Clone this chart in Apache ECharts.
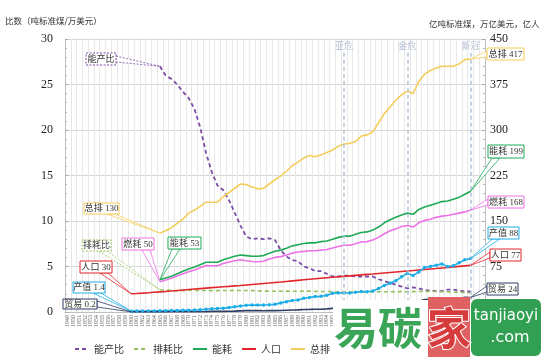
<!DOCTYPE html>
<html><head><meta charset="utf-8">
<script src="https://cdn.jsdelivr.net/npm/echarts@6/dist/echarts.min.js"></script>
<style>html,body{margin:0;padding:0;background:#fff}#c{width:550px;height:360px}</style>
</head><body><div id="c"></div>
<script>
// ---- categories (years) ----
const years = ['1949','1950','1951','1952','1953','1954','1955','1956','1957','1958','1959',
'1960','1961','1962','1963','1964','1965','1966','1967','1968','1969',
'1970','1971','1972','1973','1974','1975','1976','1977','1978','1979',
'1980','1981','1982','1983','1984','1985','1986','1987','1988','1989',
'1990','1991','1992','1993','1994','1995','1996','1997','1998','1999',
'2000','2001','2002','2003','2004','2005','2006','2007','2008','2009',
'2010','2011','2012','2013','2014','2015','2016','2017','2018','2019','2020','2021'];

// ---- series values ----
// from 1960
const population = [30.0,30.5,31.1,31.8,32.5,33.2,33.9,34.6,35.4,36.2,
37.0,37.8,38.6,39.4,40.2,40.9,41.6,42.3,43.1,43.8,
44.6,45.4,46.2,47.0,47.8,48.7,49.5,50.4,51.3,52.2,
53.1,54.0,54.8,55.6,56.4,57.2,58.0,58.8,59.6,60.4,
61.2,62.0,62.7,63.5,64.3,65.1,65.9,66.7,67.5,68.3,
69.2,70.0,70.9,71.7,72.6,73.4,74.3,75.2,76.1,77.0];
const output = [1.4,1.45,1.55,1.67,1.82,1.98,2.15,2.3,2.46,2.7,
2.96,3.26,3.77,4.58,5.29,5.89,6.38,7.23,8.47,9.93,
11.2,11.5,11.4,11.6,12.0,12.6,15.0,17.1,19.0,19.9,
22.6,23.9,25.4,25.8,27.7,30.9,31.5,31.4,31.3,32.5,
33.8,33.5,34.7,38.9,43.8,47.5,51.4,57.9,63.6,60.3,
66.0,73.3,75.0,77.2,79.3,75.0,76.2,81.2,86.1,88.0];
const trade = [0.2,0.2,0.2,0.2,0.2,0.25,0.25,0.3,0.3,0.35,
0.4,0.45,0.5,0.7,0.95,1.0,1.1,1.3,1.5,1.9,
2.3,2.3,2.2,2.1,2.2,2.3,2.5,2.9,3.3,3.5,
4.1,4.3,4.6,4.6,5.1,6.0,6.3,6.5,6.5,6.8,
7.5,7.3,7.7,8.9,10.6,11.9,13.5,15.8,17.9,14.8,
17.5,20.4,20.8,21.7,22.3,20.2,20.0,22.0,24.2,24.0];
// from 1965
const energy = [53,56,59,63,67,
71,74,78,82,82,82,86,89,92,94,
93,92,92,93,97,100,102,105,109,111,
113,114,114,116,117,120,123,125,125,128,
131,132,135,140,147,152,156,160,163,161,
169,173,176,179,182,183,186,189,194,199];
const fuel = [50,52.6,55.5,59.2,63,
66.4,69.2,72.9,76.7,76.3,76.3,80,82.3,84.6,86,
84.6,83.3,82.8,83.7,87.3,90,91.3,94,97,98.8,
100,100.9,100.9,102,103,105.6,108,110,110,112.6,
115.3,116,118.8,123,129,134,137,141,142.6,140,
147,151,153,156,158,159,161,163,165,168];
const emission = [130,134,139,146,153,
163,168,174,181,181,181,190,197,204,211,
210,206,203,204,211,218,224,232,241,247,
254,258,256,259,263,267,273,277,278,281,
290,292,297,312,327,338,349,358,364,360,
380,392,398,402,405,405,405,409,416,417];
const energyOutputRatio = [27.0,26.0,25.6,25.0,24.2,
23.5,22.3,20.3,17.5,15.4,13.9,13.4,12.3,10.9,9.5,
8.3,8.0,8.1,8.0,8.1,7.9,6.8,6.1,5.7,5.6,
5.0,4.8,4.5,4.5,4.2,3.9,3.9,4.0,4.0,3.9,
3.9,3.9,3.9,3.6,3.4,3.2,3.0,2.8,2.6,2.7,
2.6,2.4,2.35,2.3,2.3,2.45,2.45,2.35,2.25,2.26];
const emissionEnergyRatio = [2.45,2.41,2.37,2.33,2.33,
2.39,2.38,2.36,2.37,2.35,2.35,2.37,2.36,2.36,2.37,
2.37,2.35,2.32,2.30,2.29,2.28,2.28,2.29,2.28,2.27,
2.29,2.30,2.27,2.25,2.26,2.23,2.23,2.22,2.22,2.20,
2.21,2.21,2.20,2.23,2.22,2.22,2.24,2.24,2.23,2.24,
2.25,2.27,2.26,2.25,2.23,2.21,2.18,2.16,2.14,2.10];

const leftTicks = {min:0, max:30, interval:5};
const rightTicks = {min:0, max:450, interval:75};
const events = [['1997','亚危'],['2008','金危'],['2019','新冠']];

function pad(startYear, arr){
  const s = years.indexOf(startYear);
  return years.map((y,i)=> (i>=s && i-s<arr.length) ? arr[i-s] : null);
}

const C = {
  ratio:'#7b4ba6', er:'#95c25c', energy:'#1faa58', pop:'#e2262b',
  emis:'#f5cd5a', fuel:'#ee72e6', output:'#1fade6', trade:'#2e3d64'
};
const serif = "'Liberation Serif','Noto Sans CJK SC',serif";
const cjk = "'Noto Sans CJK SC',sans-serif";

const chart = echarts.init(document.getElementById('c'), null, {renderer:'canvas'});
function line(name, data, color, yIdx, extra){
  return Object.assign({
    name, type:'line', data, yAxisIndex:yIdx, symbol:'none', smooth:false,
    connectNulls:false, lineStyle:{color, width:1.6}, itemStyle:{color},
    emphasis:{disabled:true}, animation:false, z:3
  }, extra||{});
}

const series = [
  line('能产比', pad('1965', energyOutputRatio), C.ratio, 0, {
    lineStyle:{color:C.ratio, width:1.8, type:[4,3]},
    markLine:{
      silent:true, symbol:['none','none'], animation:false,
      lineStyle:{color:'#b3c4dc', width:1.5, type:[4,3]},
      label:{show:true, position:'start', color:'#b0bfd3', fontSize:9, fontFamily:cjk, distance:3},
      data: events.map(e=>[{coord:[e[0], 28.5], name:e[1], label:{formatter:e[1]}},{coord:[e[0], 0]}])
    }
  }),
  line('排耗比', pad('1965', emissionEnergyRatio), C.er, 0, {lineStyle:{color:C.er, width:1.6, type:[4,3]}}),
  line('能耗', pad('1965', energy), C.energy, 1),
  line('人口', pad('1960', population), C.pop, 1),
  line('总排', pad('1965', emission), C.emis, 1),
  line('燃耗', pad('1965', fuel), C.fuel, 1),
  line('产值', pad('1960', output), C.output, 1, {symbol:'circle', symbolSize:3.5, showSymbol:true}),
  line('贸易', pad('1960', trade), C.trade, 1)
];

chart.setOption({
  animation:false,
  backgroundColor:'#fff',
  grid:{left:65, right:65, top:39, bottom:48, containLabel:false},
  legend:{
    left:74, top:344, padding:0, itemWidth:14, itemHeight:8, itemGap:9,
    itemStyle:{opacity:0},
    textStyle:{fontSize:10, color:'#333', fontFamily:cjk},
    data:['能产比','排耗比','能耗','人口','总排','燃耗','产值','贸易']
  },
  xAxis:{
    type:'category', data:years, boundaryGap:true,
    axisLine:{show:true, lineStyle:{color:'#bfbfbf'}},
    axisTick:{show:false},
    axisLabel:{interval:0, rotate:90, fontSize:6, color:'#666', margin:3, fontFamily:serif},
    splitLine:{show:true, interval:0, lineStyle:{color:'#e8e8e8', width:1}}
  },
  yAxis:[
    {type:'value', min:leftTicks.min, max:leftTicks.max, interval:leftTicks.interval,
     axisLine:{show:true, lineStyle:{color:'#bfbfbf'}},
     axisTick:{show:true, inside:true, length:3, lineStyle:{color:'#aaa'}},
     minorTick:{show:true, splitNumber:5, length:2, lineStyle:{color:'#bbb'}},
     axisLabel:{fontSize:12, color:'#222', fontFamily:serif, margin:12},
     splitLine:{show:true, lineStyle:{color:'#d6d6d6', width:1}}},
    {type:'value', min:rightTicks.min, max:rightTicks.max, interval:rightTicks.interval,
     axisLine:{show:true, lineStyle:{color:'#bfbfbf'}},
     axisTick:{show:true, inside:true, length:3, lineStyle:{color:'#aaa'}},
     minorTick:{show:true, splitNumber:5, length:2, lineStyle:{color:'#bbb'}},
     axisLabel:{fontSize:12, color:'#222', fontFamily:serif, margin:5},
     splitLine:{show:false}}
  ],
  series
});

// ---- callout annotations ----
const notes = [
  {y:'1965', v:energyOutputRatio[0], ax:0, t:'能产比', box:[86,53,30,12], side:'r', c:C.ratio, dash:true},
  {y:'1965', v:emission[0], ax:1, t:'总排 130', box:[84,203,35,11], side:'br', c:C.emis},
  {y:'1965', v:emissionEnergyRatio[0], ax:0, t:'排耗比', box:[82,240,29,11], side:'br', c:C.er, dash:true},
  {y:'1965', v:fuel[0], ax:1, t:'燃耗 50', box:[122,238,32,12], side:'br', c:C.fuel},
  {y:'1965', v:energy[0], ax:1, t:'能耗 53', box:[168,237,33,12], side:'bl', c:C.energy},
  {y:'1960', v:population[0], ax:1, t:'人口 30', box:[80,261,32,12], side:'br', c:C.pop},
  {y:'1960', v:output[0], ax:1, t:'产值 1.4', box:[73,282,32,11], side:'br', c:C.output},
  {y:'1960', v:trade[0], ax:1, t:'贸易 0.2', box:[63,299,34,10], side:'r', c:C.trade},
  {y:'2019', v:emission[emission.length-1], ax:1, t:'总排 417', box:[487,48,37,12], side:'l', c:C.emis},
  {y:'2019', v:energy[energy.length-1], ax:1, t:'能耗 199', box:[488,145,36,13], side:'bl', c:C.energy},
  {y:'2019', v:fuel[fuel.length-1], ax:1, t:'燃耗 168', box:[488,196,36,12], side:'l', c:C.fuel},
  {y:'2019', v:output[output.length-1], ax:1, t:'产值 88', box:[488,227,31,12], side:'bl', c:C.output},
  {y:'2019', v:population[population.length-1], ax:1, t:'人口 77', box:[490,249,31,12], side:'l', c:C.pop},
  {y:'2019', v:trade[trade.length-1], ax:1, t:'贸易 24', box:[487,283,31,12], side:'l', c:C.trade}
];

const els = [];
notes.forEach(n=>{
  const p = chart.convertToPixel({xAxisIndex:0, yAxisIndex:n.ax}, [n.y, n.v]);
  const [bx,by,bw,bh] = n.box;
  let p1,p2;
  if(n.side==='r'){p1=[bx+bw,by+bh/2-3];p2=[bx+bw,by+bh/2+3];}
  else if(n.side==='l'){p1=[bx,by+bh/2-3];p2=[bx,by+bh/2+3];}
  else if(n.side==='br'){p1=[bx+bw-12,by+bh];p2=[bx+bw-4,by+bh];}
  else {p1=[bx+4,by+bh];p2=[bx+12,by+bh];}
  const dash = n.dash ? [2,1.5] : null;
  els.push({type:'polygon', z:100, silent:true, shape:{points:[p1,p,p2]},
    style:{fill:'#fff', stroke:n.c, lineWidth:0.8, lineDash:dash}});
  els.push({type:'rect', z:101, silent:true, shape:{x:bx,y:by,width:bw,height:bh},
    style:{fill:'#fff', stroke:n.c, lineWidth:1, lineDash:dash}});
  els.push({type:'text', z:102, silent:true, x:bx+bw/2, y:by+bh/2+0.5,
    style:{text:n.t, fill:'#333', font:"9px "+serif, textAlign:'center', textVerticalAlign:'middle', align:'center', verticalAlign:'middle'}});
});

// axis titles
els.push({type:'text', z:50, silent:true, x:5, y:21,
  style:{text:'比数（吨标准煤/万美元）', fill:'#333', font:"8.5px "+cjk, textVerticalAlign:'middle', verticalAlign:'middle'}});
els.push({type:'text', z:50, silent:true, x:429, y:24,
  style:{text:'亿吨标准煤，万亿美元，亿人', fill:'#333', font:"8.5px "+cjk, textVerticalAlign:'middle', verticalAlign:'middle'}});

// watermark
els.push({type:'rect', z:200, silent:true, shape:{x:333,y:300,width:217,height:60}, style:{fill:'#fff'}});
els.push({type:'text', z:201, silent:true, x:334, y:328,
  style:{text:'易碳', fill:'#3ba557', stroke:'#fff', lineWidth:2, font:"bold 44px "+cjk, textVerticalAlign:'middle', verticalAlign:'middle'}});
els.push({type:'rect', z:201, silent:true, shape:{x:428,y:297,width:42,height:60}, style:{fill:'#e06161'}});
els.push({type:'text', z:202, silent:true, x:427, y:328,
  style:{text:'家', fill:'#d63c3c', stroke:'#fff', lineWidth:2, font:"bold 44px "+cjk, textVerticalAlign:'middle', verticalAlign:'middle'}});
els.push({type:'rect', z:201, silent:true, shape:{x:471,y:299,width:70,height:57, r:6}, style:{fill:'#32a052'}});
els.push({type:'text', z:202, silent:true, x:506, y:316,
  style:{text:'tanjiaoyi', fill:'#fff', font:"15px 'DejaVu Sans',sans-serif", textAlign:'center', align:'center', textVerticalAlign:'middle', verticalAlign:'middle'}});
els.push({type:'text', z:202, silent:true, x:510, y:338,
  style:{text:'.com', fill:'#fff', font:"16px 'DejaVu Sans',sans-serif", textAlign:'center', align:'center', textVerticalAlign:'middle', verticalAlign:'middle'}});

chart.setOption({graphic:{elements:els}});
</script>
</body></html>
